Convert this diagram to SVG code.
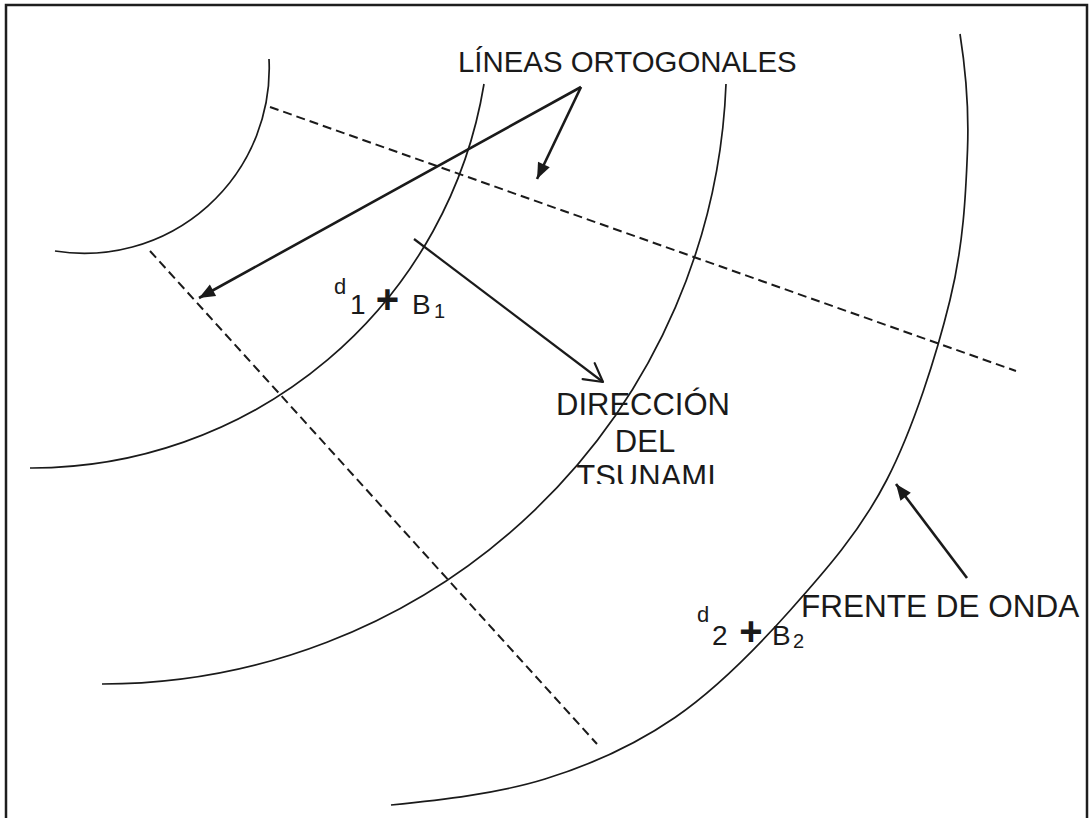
<svg xmlns="http://www.w3.org/2000/svg" width="1090" height="818" viewBox="0 0 1090 818">
<defs>
<style>
.frame{fill:none;stroke:#1e1e1e;stroke-width:2.5}
.wave{fill:none;stroke:#1a1a1a;stroke-width:1.7}
.ortho{fill:none;stroke:#1a1a1a;stroke-width:2;stroke-dasharray:9 5}
.arrow{fill:none;stroke:#1a1a1a;stroke-width:2.6}
.arrow-thin{fill:none;stroke:#1a1a1a;stroke-width:2.2}
text{font-family:"Liberation Sans",Arial,Helvetica,sans-serif;fill:#1a1a1a}
.plus{font-size:40px;font-weight:bold}
.sup{font-size:22px}
.main{font-size:28px}
.sub{font-size:20px}
</style>
<marker id="head" markerUnits="userSpaceOnUse" markerWidth="18" markerHeight="16" viewBox="-17 -8 18 16" refX="0" refY="0" orient="auto" overflow="visible">
<path d="M0,0 L-16,-6.5 L-16,6.5 Z" fill="#1a1a1a"/>
</marker>
<marker id="open" markerUnits="userSpaceOnUse" markerWidth="22" markerHeight="24" viewBox="-20 -12 22 24" refX="0" refY="0" orient="auto" overflow="visible">
<path d="M-18,-10 L0,0 L-18,10" fill="none" stroke="#1a1a1a" stroke-width="2.2" stroke-linecap="round" stroke-linejoin="round"/>
</marker>
<clipPath id="clipTs"><rect x="520" y="440" width="260" height="44"/></clipPath>
</defs>
<rect x="0" y="0" width="1090" height="818" fill="#ffffff"/>
<g id="marco"><path class="frame" d="M6,818 V5 H1087 V818"/></g>
<g id="frentes">
<path id="frente-1" class="wave" d="M269,59 A185,185 0 0 1 55,251"/>
<path id="frente-2" class="wave" d="M484,84 A458,458 0 0 1 30,468"/>
<path id="frente-3" class="wave" d="M726,84 A624,624 0 0 1 102,684"/>
<path id="frente-4" class="wave" d="M960,34 C966,72 969.2,105.7 967.5,150 C965.8,194.3 963.5,245 950,300 C936.53,355 913.37,428.25 886.7,480 C860.03,531.75 825.28,570.92 790,610.5 C754.72,650.08 715.83,689.42 675,717.5 C634.17,745.58 592.33,764.42 545,779 C497.67,793.58 441,800 391,805"/>
</g>
<g id="ortogonales">
<path id="ortogonal-1" class="ortho" d="M270,107 L1016,371"/>
<path id="ortogonal-2" class="ortho" d="M150,251 L597,744"/>
</g>
<g id="connectors">
<path class="arrow" d="M581,87 L199,298" marker-end="url(#head)"/>
<path class="arrow" d="M581,87 L537,179" marker-end="url(#head)"/>
<path class="arrow-thin" d="M414,239 L603,382" marker-end="url(#open)"/>
<path class="arrow" d="M967,578 L896,484" marker-end="url(#head)"/>
</g>
<g id="lineas-ortogonales"><text x="458" y="72" font-size="29.4">LÍNEAS ORTOGONALES</text></g>
<g id="direccion-tsunami">
<text x="643" y="415" font-size="31" text-anchor="middle">DIRECCIÓN</text>
<text x="645" y="452" font-size="31" text-anchor="middle">DEL</text>
<text x="646" y="487" font-size="31" text-anchor="middle" clip-path="url(#clipTs)">TSUNAMI</text>
</g>
<g id="frente-de-onda"><text x="801" y="617" font-size="31.5">FRENTE DE ONDA</text></g>
<g id="punto-1">
<text class="sup" x="334" y="294">d</text>
<text class="main" x="350" y="314">1</text>
<text class="plus" x="387.5" y="313" text-anchor="middle">+</text>
<text class="main" x="412" y="314">B</text>
<text class="sub" x="434" y="318">1</text>
</g>
<g id="punto-2">
<text class="sup" x="697" y="622">d</text>
<text class="main" x="712" y="645">2</text>
<text class="plus" x="751" y="645" text-anchor="middle">+</text>
<text class="main" x="772" y="645">B</text>
<text class="sub" x="793" y="648">2</text>
</g>
</svg>
